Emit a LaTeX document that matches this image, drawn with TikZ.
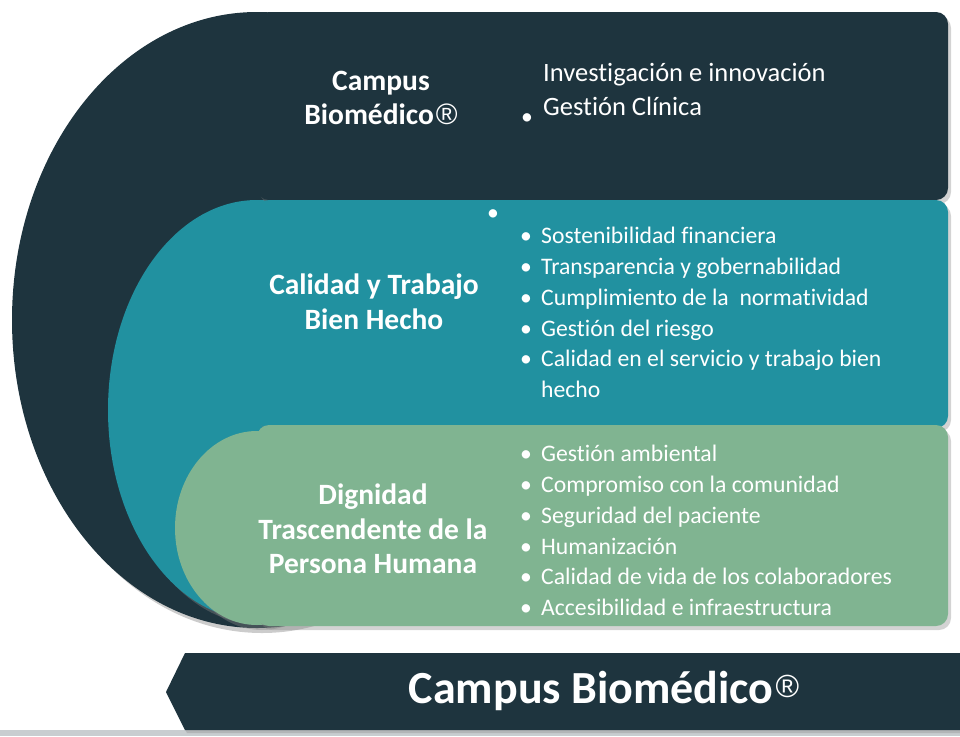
\documentclass[tikz,border=0pt]{standalone}
\usepackage{fontspec}
\setmainfont{Carlito}[Ligatures=NoCommon]
\newfontfamily\regfont{Liberation Sans}
\usepackage{xcolor}
\usepackage{tikz}
\usetikzlibrary{shadows,positioning}

\definecolor{cbdark}{HTML}{1E343E}
\definecolor{cbteal}{HTML}{2191A0}
\definecolor{cbgreen}{HTML}{80B491}
\definecolor{cbstrip}{HTML}{C8CDD0}

\newcommand{\regsign}{\hspace{2pt}{\mdseries\regfont ®}}
\newcommand{\bul}{\makebox[21pt][l]{\textbullet}}

\tikzset{
    panel/.style={rounded corners=12pt, drop shadow={opacity=0.35, shadow xshift=3pt, shadow yshift=-4pt}},
    ring/.style={drop shadow={opacity=0.4, shadow xshift=5pt, shadow yshift=-5pt}},
    title/.style={text=white, font=\bfseries\fontsize{29.5}{34.5}\selectfont, align=center},
    items/.style={text=white, font=\fontsize{23.7}{30.8}\selectfont, align=left, inner sep=0pt},
}

\begin{document}
\begin{tikzpicture}[x=1pt,y=-1pt]
                \useasboundingbox (0,0) rectangle (960,736);

                \fill[cbstrip] (0,730) rectangle (960,736);

                \fill[ring, cbdark] (257,320) ellipse [x radius=245pt, y radius=308pt];
                \fill[ring, cbteal] (257,410) ellipse [x radius=149pt, y radius=210pt];
                \fill[ring, cbgreen] (257,528) ellipse [x radius=82pt, y radius=97pt];

                \fill[panel, cbdark] (257,12) rectangle (948,200);
                \fill[panel, cbteal] (257,200) rectangle (948,428);
                \fill[panel, cbgreen] (257,425) rectangle (948,626);

                \fill[
                    cbdark,
                    drop shadow={opacity=0.3, shadow xshift=2pt, shadow yshift=-3pt}
                    ] (185,653) -- (960,653) -- (960,730) -- (185,730) -- (166,692) -- cycle;

                \node[title] (topname) at (381,98) {Campus\\Biomédico\regsign};
                \node[title] (qualname) at (374,302) {Calidad y Trabajo\\Bien Hecho};
                \node[title] (dignname) at (373,529) {Dignidad\\Trascendente de la\\Persona Humana};

                \node[items, font=\fontsize{26.5}{34}\selectfont, anchor=north west] (toplist) at (543,63)
                    {Investigación e innovación\\Gestión Clínica};
                \node[items, anchor=center] (topdot) at (527,119) {\textbullet};

                \node[items, anchor=center] (qualdot) at (493,215) {\textbullet};
                \node[items, anchor=north west] (quallist) at (520,227)
                    {\bul Sostenibilidad financiera\\
                     \bul Transparencia y gobernabilidad\\
                     \bul Cumplimiento de la\ \ normatividad\\
                     \bul Gestión del riesgo\\
                     \bul Calidad en el servicio y trabajo bien\\
                     \hspace*{21pt}hecho};

                \node[items, anchor=north west] (dignlist) at (520,445)
                    {\bul Gestión ambiental\\
                     \bul Compromiso con la comunidad\\
                     \bul Seguridad del paciente\\
                     \bul Humanización\\
                     \bul Calidad de vida de los colaboradores\\
                     \bul Accesibilidad e infraestructura};

                \node[text=white, font=\bfseries\fontsize{46}{50}\selectfont] (banner) at (604,691)
                    {Campus Biomédico\hspace{2pt}{\fontsize{32}{32}\selectfont\raisebox{6pt}{\mdseries\regfont ®}}};
            \end{tikzpicture}
\end{document}
